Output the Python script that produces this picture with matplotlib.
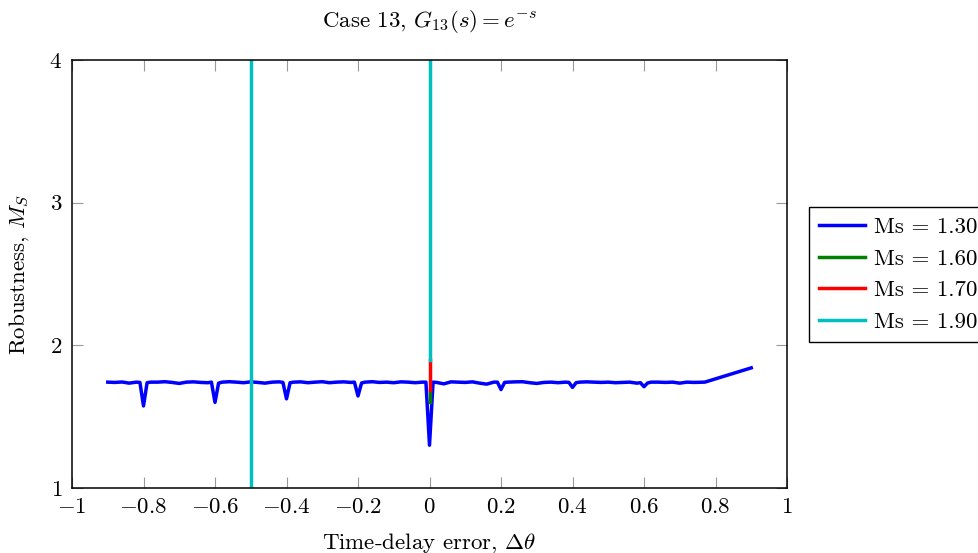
import numpy as np
import matplotlib
matplotlib.use('Agg')
import matplotlib.pyplot as plt

plt.rcParams['font.family'] = ['cmr10', 'DejaVu Serif']
plt.rcParams['mathtext.fontset'] = 'cm'
plt.rcParams['axes.formatter.use_mathtext'] = True
plt.rcParams['axes.unicode_minus'] = True

# blue series, Ms = 1.30
x_130 = [-0.90, -0.88, -0.86, -0.84, -0.82, -0.81, -0.80, -0.79, -0.78, -0.76, -0.74,
         -0.72, -0.70, -0.68, -0.66, -0.64, -0.62, -0.61, -0.60, -0.59, -0.58, -0.56,
         -0.54, -0.52, -0.50, -0.48, -0.46, -0.44, -0.42, -0.41, -0.40, -0.39, -0.38,
         -0.36, -0.34, -0.32, -0.30, -0.28, -0.26, -0.24, -0.22, -0.21, -0.20, -0.19,
         -0.18, -0.16, -0.14, -0.12, -0.10, -0.08, -0.06, -0.04, -0.02, -0.01, 0.00,
         0.01, 0.02, 0.04, 0.06, 0.08, 0.10, 0.12, 0.14, 0.16, 0.18, 0.19, 0.20, 0.21,
         0.22, 0.24, 0.26, 0.28, 0.30, 0.32, 0.34, 0.36, 0.38, 0.39, 0.40, 0.41, 0.42,
         0.44, 0.46, 0.48, 0.50, 0.52, 0.54, 0.56, 0.58, 0.59, 0.60, 0.61, 0.62, 0.64,
         0.66, 0.68, 0.70, 0.72, 0.74, 0.77, 0.90]
y_130 = [1.742, 1.740, 1.743, 1.735, 1.742, 1.740, 1.575, 1.738, 1.742, 1.742, 1.745,
         1.740, 1.733, 1.742, 1.744, 1.740, 1.738, 1.742, 1.600, 1.735, 1.742, 1.745,
         1.742, 1.738, 1.744, 1.740, 1.735, 1.742, 1.744, 1.740, 1.625, 1.738, 1.742,
         1.744, 1.738, 1.742, 1.745, 1.738, 1.742, 1.744, 1.740, 1.742, 1.645, 1.736,
         1.742, 1.745, 1.740, 1.742, 1.738, 1.744, 1.742, 1.738, 1.742, 1.742, 1.300,
         1.742, 1.740, 1.730, 1.744, 1.742, 1.740, 1.744, 1.735, 1.728, 1.742, 1.742,
         1.690, 1.740, 1.742, 1.744, 1.745, 1.738, 1.733, 1.740, 1.742, 1.738, 1.742,
         1.740, 1.705, 1.738, 1.742, 1.744, 1.742, 1.740, 1.742, 1.738, 1.740, 1.742,
         1.735, 1.738, 1.710, 1.736, 1.742, 1.742, 1.740, 1.742, 1.735, 1.742, 1.740,
         1.742, 1.842]

# Ms = 1.60, 1.70, 1.90 (vertical segments)
x_160 = [0.0, 0.0]
y_160 = [1.60, 1.69]
x_170 = [0.0, 0.0]
y_170 = [1.69, 1.90]
x_190 = [-0.5, -0.5, np.nan, 0.0, 0.0]
y_190 = [0.5, 4.5, np.nan, 1.90, 4.5]

xticks = [-1, -0.8, -0.6, -0.4, -0.2, 0, 0.2, 0.4, 0.6, 0.8, 1]
xticklabels = ['$-1$', '$-0.8$', '$-0.6$', '$-0.4$', '$-0.2$', '$0$',
               '$0.2$', '$0.4$', '$0.6$', '$0.8$', '$1$']
yticks = [1, 2, 3, 4]
yticklabels = ['$1$', '$2$', '$3$', '$4$']

fs = 16.5

fig = plt.figure(figsize=(9.79, 5.53), dpi=100)
ax = fig.add_axes([72/979, 65/553, 715/979, 428/553])

ax.plot(x_130, y_130, color=(0, 0, 1), lw=2.5, label='Ms = 1.30')
ax.plot(x_160, y_160, color=(0, 0.5, 0), lw=2.5, label='Ms = 1.60')
ax.plot(x_170, y_170, color=(1, 0, 0), lw=2.5, label='Ms = 1.70')
ax.plot(x_190, y_190, color=(0, 0.75, 0.75), lw=2.5, label='Ms = 1.90')

ax.set_xlim(-1, 1)
ax.set_ylim(1, 4)
ax.set_xticks(xticks)
ax.set_xticklabels(xticklabels, fontsize=fs)
ax.set_yticks(yticks)
ax.set_yticklabels(yticklabels, fontsize=fs)
ax.tick_params(direction='in', length=8, width=0.8, color='#999999',
               top=True, right=True)
ax.tick_params(axis='x', pad=7)
ax.tick_params(axis='y', pad=7)
for s in ax.spines.values():
    s.set_linewidth(1.1)

ax.set_title(r'Case 13, $G_{13}(s) = e^{-s}$', fontsize=fs, pad=24)
ax.set_xlabel(r'Time-delay error, $\Delta\theta$', fontsize=fs, labelpad=10)
ax.set_ylabel(r'Robustness, $M_S$', fontsize=fs, labelpad=13)

leg = ax.legend(loc='upper left', bbox_to_anchor=(809/979, 1 - 207/553),
                bbox_transform=fig.transFigure, fontsize=fs, fancybox=False,
                framealpha=1, edgecolor='black', handlelength=2.0,
                borderpad=0.45, labelspacing=0.5, handletextpad=0.4,
                borderaxespad=0)
leg.get_frame().set_linewidth(1.0)

fig.savefig('out.png', dpi=100)
